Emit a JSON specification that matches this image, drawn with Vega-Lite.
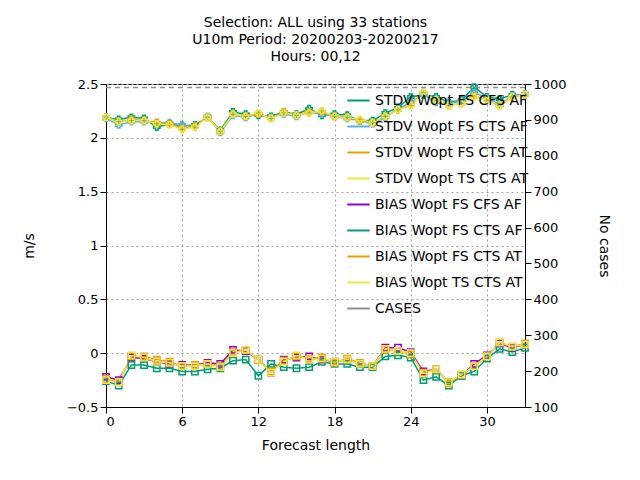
{
"$schema":"https://vega.github.io/schema/vega-lite/v6.json",
"width":419,"height":323,
"padding":{"left":22,"top":16,"right":10,"bottom":5},
"title":{"text":["Selection: ALL using    33 stations","U10m   Period: 20200203-20200217","Hours:  00,12"],"font":"DejaVu Sans","fontSize":14,"fontWeight":"normal","lineHeight":17,"offset":14},
"config":{"font":"DejaVu Sans","view":{"stroke":"black"},"axis":{"labelFont":"DejaVu Sans","labelFontSize":13,"titleFont":"DejaVu Sans","titleFontSize":14,"titleFontWeight":"normal","labelColor":"black","domainColor":"black","tickColor":"black","tickSize":6,"labelOverlap":false}},
"data":{"values":[
{"x":0,"STDV Wopt FS CFS AF":2.19,"STDV Wopt FS CTS AF":2.18,"STDV Wopt FS CTS AT":2.19,"STDV Wopt TS CTS AT":2.19,"BIAS Wopt FS CFS AF":-0.22,"BIAS Wopt FS CTS AF":-0.26,"BIAS Wopt FS CTS AT":-0.24,"BIAS Wopt TS CTS AT":-0.25,"cases":990},
{"x":1,"STDV Wopt FS CFS AF":2.17,"STDV Wopt FS CTS AF":2.12,"STDV Wopt FS CTS AT":2.15,"STDV Wopt TS CTS AT":2.15,"BIAS Wopt FS CFS AF":-0.25,"BIAS Wopt FS CTS AF":-0.30,"BIAS Wopt FS CTS AT":-0.27,"BIAS Wopt TS CTS AT":-0.27,"cases":990},
{"x":2,"STDV Wopt FS CFS AF":2.19,"STDV Wopt FS CTS AF":2.15,"STDV Wopt FS CTS AT":2.17,"STDV Wopt TS CTS AT":2.16,"BIAS Wopt FS CFS AF":-0.04,"BIAS Wopt FS CTS AF":-0.11,"BIAS Wopt FS CTS AT":-0.03,"BIAS Wopt TS CTS AT":-0.02,"cases":990},
{"x":3,"STDV Wopt FS CFS AF":2.18,"STDV Wopt FS CTS AF":2.15,"STDV Wopt FS CTS AT":2.16,"STDV Wopt TS CTS AT":2.16,"BIAS Wopt FS CFS AF":-0.05,"BIAS Wopt FS CTS AF":-0.11,"BIAS Wopt FS CTS AT":-0.03,"BIAS Wopt TS CTS AT":-0.04,"cases":990},
{"x":4,"STDV Wopt FS CFS AF":2.10,"STDV Wopt FS CTS AF":2.14,"STDV Wopt FS CTS AT":2.14,"STDV Wopt TS CTS AT":2.13,"BIAS Wopt FS CFS AF":-0.08,"BIAS Wopt FS CTS AF":-0.14,"BIAS Wopt FS CTS AT":-0.06,"BIAS Wopt TS CTS AT":-0.08,"cases":990},
{"x":5,"STDV Wopt FS CFS AF":2.13,"STDV Wopt FS CTS AF":2.14,"STDV Wopt FS CTS AT":2.13,"STDV Wopt TS CTS AT":2.12,"BIAS Wopt FS CFS AF":-0.10,"BIAS Wopt FS CTS AF":-0.14,"BIAS Wopt FS CTS AT":-0.08,"BIAS Wopt TS CTS AT":-0.09,"cases":990},
{"x":6,"STDV Wopt FS CFS AF":2.11,"STDV Wopt FS CTS AF":2.12,"STDV Wopt FS CTS AT":2.09,"STDV Wopt TS CTS AT":2.08,"BIAS Wopt FS CFS AF":-0.11,"BIAS Wopt FS CTS AF":-0.17,"BIAS Wopt FS CTS AT":-0.12,"BIAS Wopt TS CTS AT":-0.12,"cases":990},
{"x":7,"STDV Wopt FS CFS AF":2.12,"STDV Wopt FS CTS AF":2.10,"STDV Wopt FS CTS AT":2.11,"STDV Wopt TS CTS AT":2.10,"BIAS Wopt FS CFS AF":-0.11,"BIAS Wopt FS CTS AF":-0.17,"BIAS Wopt FS CTS AT":-0.11,"BIAS Wopt TS CTS AT":-0.12,"cases":990},
{"x":8,"STDV Wopt FS CFS AF":2.19,"STDV Wopt FS CTS AF":2.20,"STDV Wopt FS CTS AT":2.19,"STDV Wopt TS CTS AT":2.19,"BIAS Wopt FS CFS AF":-0.09,"BIAS Wopt FS CTS AF":-0.15,"BIAS Wopt FS CTS AT":-0.10,"BIAS Wopt TS CTS AT":-0.10,"cases":990},
{"x":9,"STDV Wopt FS CFS AF":2.07,"STDV Wopt FS CTS AF":2.05,"STDV Wopt FS CTS AT":2.06,"STDV Wopt TS CTS AT":2.06,"BIAS Wopt FS CFS AF":-0.10,"BIAS Wopt FS CTS AF":-0.14,"BIAS Wopt FS CTS AT":-0.12,"BIAS Wopt TS CTS AT":-0.13,"cases":990},
{"x":10,"STDV Wopt FS CFS AF":2.24,"STDV Wopt FS CTS AF":2.21,"STDV Wopt FS CTS AT":2.22,"STDV Wopt TS CTS AT":2.22,"BIAS Wopt FS CFS AF":0.03,"BIAS Wopt FS CTS AF":-0.07,"BIAS Wopt FS CTS AT":0.01,"BIAS Wopt TS CTS AT":0.00,"cases":990},
{"x":11,"STDV Wopt FS CFS AF":2.22,"STDV Wopt FS CTS AF":2.19,"STDV Wopt FS CTS AT":2.20,"STDV Wopt TS CTS AT":2.20,"BIAS Wopt FS CFS AF":0.02,"BIAS Wopt FS CTS AF":-0.06,"BIAS Wopt FS CTS AT":0.03,"BIAS Wopt TS CTS AT":0.03,"cases":990},
{"x":12,"STDV Wopt FS CFS AF":2.21,"STDV Wopt FS CTS AF":2.22,"STDV Wopt FS CTS AT":2.22,"STDV Wopt TS CTS AT":2.23,"BIAS Wopt FS CFS AF":-0.06,"BIAS Wopt FS CTS AF":-0.21,"BIAS Wopt FS CTS AT":-0.06,"BIAS Wopt TS CTS AT":-0.06,"cases":990},
{"x":13,"STDV Wopt FS CFS AF":2.20,"STDV Wopt FS CTS AF":2.19,"STDV Wopt FS CTS AT":2.18,"STDV Wopt TS CTS AT":2.18,"BIAS Wopt FS CFS AF":-0.18,"BIAS Wopt FS CTS AF":-0.10,"BIAS Wopt FS CTS AT":-0.17,"BIAS Wopt TS CTS AT":-0.18,"cases":990},
{"x":14,"STDV Wopt FS CFS AF":2.24,"STDV Wopt FS CTS AF":2.22,"STDV Wopt FS CTS AT":2.24,"STDV Wopt TS CTS AT":2.23,"BIAS Wopt FS CFS AF":-0.06,"BIAS Wopt FS CTS AF":-0.13,"BIAS Wopt FS CTS AT":-0.07,"BIAS Wopt TS CTS AT":-0.08,"cases":990},
{"x":15,"STDV Wopt FS CFS AF":2.22,"STDV Wopt FS CTS AF":2.20,"STDV Wopt FS CTS AT":2.21,"STDV Wopt TS CTS AT":2.21,"BIAS Wopt FS CFS AF":-0.04,"BIAS Wopt FS CTS AF":-0.14,"BIAS Wopt FS CTS AT":-0.03,"BIAS Wopt TS CTS AT":-0.02,"cases":990},
{"x":16,"STDV Wopt FS CFS AF":2.27,"STDV Wopt FS CTS AF":2.24,"STDV Wopt FS CTS AT":2.24,"STDV Wopt TS CTS AT":2.23,"BIAS Wopt FS CFS AF":-0.03,"BIAS Wopt FS CTS AF":-0.13,"BIAS Wopt FS CTS AT":-0.05,"BIAS Wopt TS CTS AT":-0.06,"cases":990},
{"x":17,"STDV Wopt FS CFS AF":2.21,"STDV Wopt FS CTS AF":2.22,"STDV Wopt FS CTS AT":2.24,"STDV Wopt TS CTS AT":2.25,"BIAS Wopt FS CFS AF":-0.06,"BIAS Wopt FS CTS AF":-0.08,"BIAS Wopt FS CTS AT":-0.04,"BIAS Wopt TS CTS AT":-0.05,"cases":990},
{"x":18,"STDV Wopt FS CFS AF":2.22,"STDV Wopt FS CTS AF":2.20,"STDV Wopt FS CTS AT":2.20,"STDV Wopt TS CTS AT":2.20,"BIAS Wopt FS CFS AF":-0.08,"BIAS Wopt FS CTS AF":-0.10,"BIAS Wopt FS CTS AT":-0.09,"BIAS Wopt TS CTS AT":-0.08,"cases":990},
{"x":19,"STDV Wopt FS CFS AF":2.21,"STDV Wopt FS CTS AF":2.18,"STDV Wopt FS CTS AT":2.19,"STDV Wopt TS CTS AT":2.19,"BIAS Wopt FS CFS AF":-0.06,"BIAS Wopt FS CTS AF":-0.10,"BIAS Wopt FS CTS AT":-0.05,"BIAS Wopt TS CTS AT":-0.06,"cases":990},
{"x":20,"STDV Wopt FS CFS AF":2.16,"STDV Wopt FS CTS AF":2.16,"STDV Wopt FS CTS AT":2.16,"STDV Wopt TS CTS AT":2.17,"BIAS Wopt FS CFS AF":-0.10,"BIAS Wopt FS CTS AF":-0.13,"BIAS Wopt FS CTS AT":-0.09,"BIAS Wopt TS CTS AT":-0.10,"cases":990},
{"x":21,"STDV Wopt FS CFS AF":2.16,"STDV Wopt FS CTS AF":2.13,"STDV Wopt FS CTS AT":2.14,"STDV Wopt TS CTS AT":2.14,"BIAS Wopt FS CFS AF":-0.12,"BIAS Wopt FS CTS AF":-0.13,"BIAS Wopt FS CTS AT":-0.12,"BIAS Wopt TS CTS AT":-0.12,"cases":990},
{"x":22,"STDV Wopt FS CFS AF":2.23,"STDV Wopt FS CTS AF":2.19,"STDV Wopt FS CTS AT":2.20,"STDV Wopt TS CTS AT":2.20,"BIAS Wopt FS CFS AF":0.05,"BIAS Wopt FS CTS AF":-0.03,"BIAS Wopt FS CTS AT":0.03,"BIAS Wopt TS CTS AT":0.04,"cases":990},
{"x":23,"STDV Wopt FS CFS AF":2.28,"STDV Wopt FS CTS AF":2.27,"STDV Wopt FS CTS AT":2.26,"STDV Wopt TS CTS AT":2.26,"BIAS Wopt FS CFS AF":0.05,"BIAS Wopt FS CTS AF":-0.02,"BIAS Wopt FS CTS AT":0.02,"BIAS Wopt TS CTS AT":0.02,"cases":990},
{"x":24,"STDV Wopt FS CFS AF":2.38,"STDV Wopt FS CTS AF":2.33,"STDV Wopt FS CTS AT":2.31,"STDV Wopt TS CTS AT":2.30,"BIAS Wopt FS CFS AF":0.01,"BIAS Wopt FS CTS AF":-0.04,"BIAS Wopt FS CTS AT":-0.01,"BIAS Wopt TS CTS AT":0.00,"cases":990},
{"x":25,"STDV Wopt FS CFS AF":2.40,"STDV Wopt FS CTS AF":2.40,"STDV Wopt FS CTS AT":2.42,"STDV Wopt TS CTS AT":2.42,"BIAS Wopt FS CFS AF":-0.17,"BIAS Wopt FS CTS AF":-0.25,"BIAS Wopt FS CTS AT":-0.18,"BIAS Wopt TS CTS AT":-0.19,"cases":990},
{"x":26,"STDV Wopt FS CFS AF":2.38,"STDV Wopt FS CTS AF":2.33,"STDV Wopt FS CTS AT":2.35,"STDV Wopt TS CTS AT":2.35,"BIAS Wopt FS CFS AF":-0.15,"BIAS Wopt FS CTS AF":-0.22,"BIAS Wopt FS CTS AT":-0.15,"BIAS Wopt TS CTS AT":-0.15,"cases":990},
{"x":27,"STDV Wopt FS CFS AF":2.33,"STDV Wopt FS CTS AF":2.32,"STDV Wopt FS CTS AT":2.30,"STDV Wopt TS CTS AT":2.30,"BIAS Wopt FS CFS AF":-0.27,"BIAS Wopt FS CTS AF":-0.30,"BIAS Wopt FS CTS AT":-0.28,"BIAS Wopt TS CTS AT":-0.27,"cases":990},
{"x":28,"STDV Wopt FS CFS AF":2.35,"STDV Wopt FS CTS AF":2.34,"STDV Wopt FS CTS AT":2.32,"STDV Wopt TS CTS AT":2.32,"BIAS Wopt FS CFS AF":-0.21,"BIAS Wopt FS CTS AF":-0.21,"BIAS Wopt FS CTS AT":-0.20,"BIAS Wopt TS CTS AT":-0.20,"cases":990},
{"x":29,"STDV Wopt FS CFS AF":2.47,"STDV Wopt FS CTS AF":2.42,"STDV Wopt FS CTS AT":2.39,"STDV Wopt TS CTS AT":2.38,"BIAS Wopt FS CFS AF":-0.10,"BIAS Wopt FS CTS AF":-0.17,"BIAS Wopt FS CTS AT":-0.12,"BIAS Wopt TS CTS AT":-0.12,"cases":990},
{"x":30,"STDV Wopt FS CFS AF":2.38,"STDV Wopt FS CTS AF":2.37,"STDV Wopt FS CTS AT":2.35,"STDV Wopt TS CTS AT":2.35,"BIAS Wopt FS CFS AF":-0.02,"BIAS Wopt FS CTS AF":-0.05,"BIAS Wopt FS CTS AT":-0.03,"BIAS Wopt TS CTS AT":-0.03,"cases":990},
{"x":31,"STDV Wopt FS CFS AF":2.36,"STDV Wopt FS CTS AF":2.31,"STDV Wopt FS CTS AT":2.30,"STDV Wopt TS CTS AT":2.30,"BIAS Wopt FS CFS AF":0.09,"BIAS Wopt FS CTS AF":0.04,"BIAS Wopt FS CTS AT":0.10,"BIAS Wopt TS CTS AT":0.10,"cases":990},
{"x":32,"STDV Wopt FS CFS AF":2.40,"STDV Wopt FS CTS AF":2.39,"STDV Wopt FS CTS AT":2.38,"STDV Wopt TS CTS AT":2.38,"BIAS Wopt FS CFS AF":0.05,"BIAS Wopt FS CTS AF":0.01,"BIAS Wopt FS CTS AT":0.06,"BIAS Wopt TS CTS AT":0.06,"cases":990},
{"x":33,"STDV Wopt FS CFS AF":2.40,"STDV Wopt FS CTS AF":2.41,"STDV Wopt FS CTS AT":2.40,"STDV Wopt TS CTS AT":2.40,"BIAS Wopt FS CFS AF":0.08,"BIAS Wopt FS CTS AF":0.05,"BIAS Wopt FS CTS AT":0.09,"BIAS Wopt TS CTS AT":0.08,"cases":990}
]},
"layer":[
{"transform":[{"fold":["STDV Wopt FS CFS AF","STDV Wopt FS CTS AF","STDV Wopt FS CTS AT","STDV Wopt TS CTS AT","BIAS Wopt FS CFS AF","BIAS Wopt FS CTS AF","BIAS Wopt FS CTS AT","BIAS Wopt TS CTS AT"],"as":["series","v"]}],
"layer":[
{"mark":{"type":"line","strokeWidth":1.5,"opacity":1},
"encoding":{"x":{"field":"x","type":"quantitative","scale":{"domain":[0,33],"nice":false},"axis":{"title":"Forecast length","values":[0,3,6,9,12,15,18,21,24,27,30,33],"grid":true,"gridDash":[2,3],"gridColor":"#a0a0a0","titlePadding":10}},
"y":{"field":"v","type":"quantitative","scale":{"domain":[-0.5,2.5],"nice":false,"zero":false},"axis":{"title":"m/s","format":"~g","values":[-0.5,0,0.5,1,1.5,2,2.5],"grid":true,"gridDash":[2,3],"gridColor":"#a0a0a0","titlePadding":30}},
"color":{"field":"series","type":"nominal","sort":null,"scale":{"domain":["STDV Wopt FS CFS AF","STDV Wopt FS CTS AF","STDV Wopt FS CTS AT","STDV Wopt TS CTS AT","BIAS Wopt FS CFS AF","BIAS Wopt FS CTS AF","BIAS Wopt FS CTS AT","BIAS Wopt TS CTS AT","CASES"],"range":["#009e73","#56b4e9","#e69f00","#f0e442","#9400d3","#009e73","#e69f00","#f0e442","#909090"]},
"legend":{"title":null,"orient":"none","legendX":240,"legendY":4,"symbolType":"stroke","symbolSize":500,"symbolStrokeWidth":2,"symbolOpacity":1,"labelFontSize":14,"labelFont":"DejaVu Sans","rowPadding":6}},
"detail":{"field":"series"}}},
{"mark":{"type":"point","filled":false,"size":40,"strokeWidth":1.5,"opacity":1},
"encoding":{"x":{"field":"x","type":"quantitative"},"y":{"field":"v","type":"quantitative"},
"color":{"field":"series","type":"nominal","sort":null},
"shape":{"field":"series","type":"nominal","scale":{"domain":["STDV Wopt FS CFS AF","STDV Wopt FS CTS AF","STDV Wopt FS CTS AT","STDV Wopt TS CTS AT","BIAS Wopt FS CFS AF","BIAS Wopt FS CTS AF","BIAS Wopt FS CTS AT","BIAS Wopt TS CTS AT"],"range":["cross","cross","cross","cross","square","square","square","square"]},"legend":null}}}
]},
{"mark":{"type":"line","strokeDash":[5,4],"strokeWidth":1.5},
"encoding":{"x":{"field":"x","type":"quantitative"},
"y":{"field":"cases","type":"quantitative","scale":{"domain":[100,1000],"nice":false,"zero":false},"axis":{"title":"No cases","format":"d","orient":"right","values":[100,200,300,400,500,600,700,800,900,1000],"grid":false,"titlePadding":30}},
"color":{"datum":"CASES"}}}
],
"resolve":{"scale":{"y":"independent"}}
}
